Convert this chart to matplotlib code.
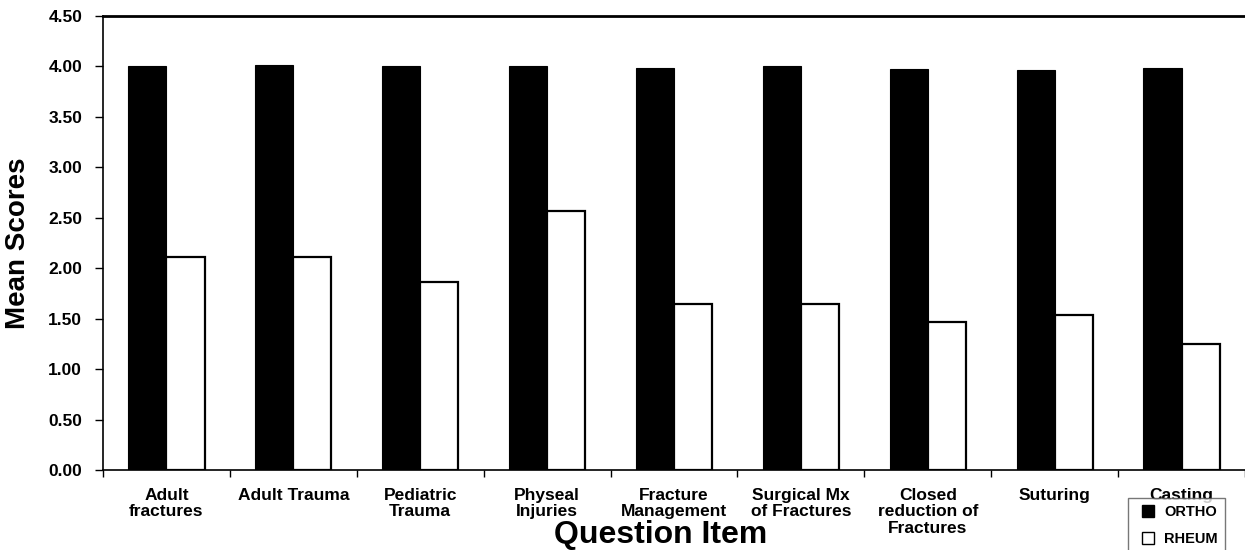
import numpy as np
import matplotlib
matplotlib.use("Agg")
from matplotlib import pyplot as plt
from matplotlib.lines import Line2D

plt.rcParams['font.family'] = ['Liberation Sans', 'DejaVu Sans']
plt.rcParams['font.weight'] = 'bold'

items = ["Adult\nfractures", "Adult Trauma", "Pediatric\nTrauma", "Physeal\nInjuries",
         "Fracture\nManagement", "Surgical Mx\nof Fractures", "Closed\nreduction of\nFractures",
         "Suturing", "Casting"]
ortho = [4.00, 4.01, 4.00, 4.00, 3.98, 4.00, 3.97, 3.96, 3.98]
rheum = [2.11, 2.11, 1.86, 2.57, 1.65, 1.65, 1.47, 1.54, 1.25]
yticks = np.arange(0, 4.51, 0.5)

fig = plt.figure(figsize=(12.45, 5.5), dpi=100)
ax = fig.add_axes([103/1245, 80/550, 1 - 103/1245, 454/550])

x = np.arange(len(items))
w = 0.3
ax.bar(x - w/2, ortho, w, color='black', edgecolor='black', linewidth=0.8)
ax.bar(x + w/2, rheum, w, color='white', edgecolor='black', linewidth=1.6)

ax.set_xlim(-0.5, len(items) - 0.5)
ax.set_ylim(0, 4.5)
ax.set_yticks(yticks)
ax.set_yticklabels(["%.2f" % v for v in yticks], fontsize=12.5, fontweight='bold')
ax.set_xticks(np.arange(len(items) + 1) - 0.5)
ax.set_xticklabels([])
ax.set_xticks(x, minor=True)
ax.set_xticklabels(items, minor=True, fontsize=12.5, fontweight='bold', linespacing=1.12, va='top')
ax.tick_params(axis='x', which='minor', length=0, pad=13)
ax.tick_params(axis='x', which='major', length=5, width=1, direction='out')
ax.tick_params(axis='y', length=6, width=1, direction='out', pad=9)

ax.spines['right'].set_visible(False)
ax.spines['top'].set_linewidth(2)
ax.spines['left'].set_linewidth(1.2)
ax.spines['bottom'].set_linewidth(1.2)

ax.set_ylabel("Mean Scores", fontsize=20, fontweight='bold', labelpad=12)
fig.text(661/1245, 7/550, "Question Item", fontsize=23, fontweight='bold',
         ha='center', va='baseline')

handles = [Line2D([], [], marker='s', color='w', markerfacecolor='black', markeredgecolor='black', markersize=8),
           Line2D([], [], marker='s', color='w', markerfacecolor='white', markeredgecolor='black', markersize=8)]
leg = fig.legend(handles, ["ORTHO", "RHEUM"], loc='upper left', bbox_to_anchor=(1128/1245, 1 - 498/550),
                 prop={'size': 10.5, 'weight': 'bold'}, frameon=True, fancybox=False,
                 edgecolor='#555555', handlelength=1.8, handletextpad=0.2, labelspacing=0.85,
                 borderpad=0.5, borderaxespad=0)
leg.get_frame().set_linewidth(1)

fig.savefig("out.png", dpi=100)
